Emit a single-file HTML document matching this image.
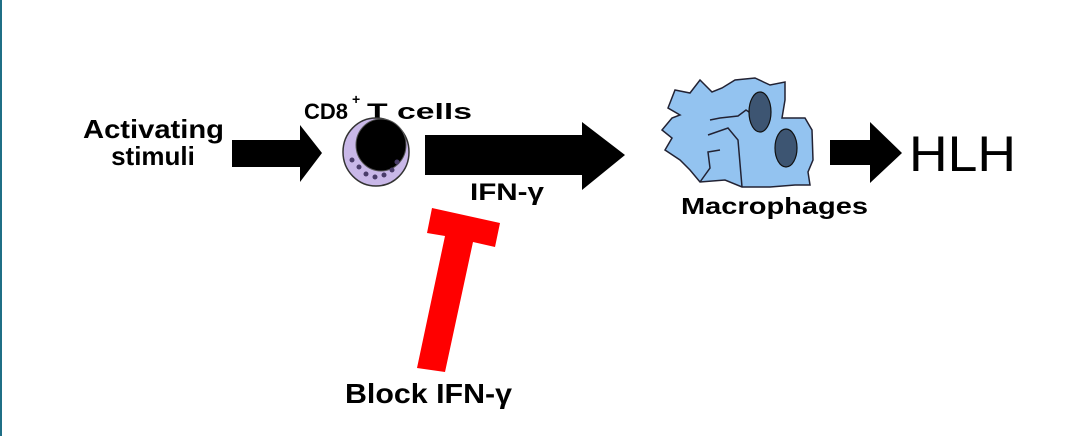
<!DOCTYPE html>
<html><head><style>
body{margin:0;width:1065px;height:436px;background:#fff;overflow:hidden;position:relative;font-family:"Liberation Sans",Arial,sans-serif}
</style></head><body>
<svg width="1065" height="436" viewBox="0 0 1065 436" xmlns="http://www.w3.org/2000/svg" style="position:absolute;left:0;top:0">
<rect x="0" y="0" width="2" height="436" fill="#1f6f86"/>
<text x="83" y="138" font-size="26" font-weight="bold" fill="#000" textLength="141" lengthAdjust="spacingAndGlyphs">Activating</text>
<text x="153" y="165" font-size="26" font-weight="bold" text-anchor="middle" fill="#000">stimuli</text>
<polygon points="232,140 300,140 300,125 322,153 300,182 300,167 232,167" fill="#000"/>
<text x="304" y="119" font-size="22" font-weight="bold" fill="#000">CD8</text>
<text x="352" y="104" font-size="14" font-weight="bold" fill="#000">+</text>
<text x="367" y="119" font-size="22" font-weight="bold" fill="#000" textLength="105" lengthAdjust="spacingAndGlyphs">T cells</text>
<ellipse cx="376" cy="152" rx="33" ry="34" fill="#c9b8e8" stroke="#333" stroke-width="1.5"/>
<ellipse cx="381" cy="145" rx="25" ry="26" fill="#000" stroke="#555" stroke-width="1"/>
<g fill="#4a3d6a"><circle cx="352" cy="160" r="2.5"/><circle cx="359" cy="167" r="2.5"/><circle cx="366" cy="174" r="2.5"/><circle cx="375" cy="177" r="2.5"/><circle cx="384" cy="175" r="2.5"/><circle cx="392" cy="170" r="2.5"/><circle cx="397" cy="162" r="2.5"/></g>
<polygon points="425,135 582,135 582,122 625,155 582,190 582,175 425,175" fill="#000"/>
<text x="470" y="200" font-size="24" font-weight="bold" fill="#000" textLength="74" lengthAdjust="spacingAndGlyphs">IFN-γ</text>
<polygon points="432,208 500,223 495,247 473,242 445,372 417,368 445,236 427,233" fill="#f00"/>
<text x="345" y="403" font-size="28" font-weight="bold" fill="#000" textLength="167" lengthAdjust="spacingAndGlyphs">Block IFN-γ</text>
<path d="M668,108 L675,90 L690,93 L700,80 L712,92 L722,88 L735,80 L755,78 L770,85 L785,82 L785,100 L782,118 L805,118 L812,130 L813,160 L808,172 L810,185 L795,185 L770,187 L742,187 L725,180 L700,182 L690,170 L680,160 L665,150 L672,138 L662,130 L672,118 L680,115 Z" fill="#93c3f0" stroke="#223" stroke-width="1.5"/>
<path d="M710,120 L720,118 L738,116 L746,110 L758,118 L770,120 M708,135 L728,128 L738,140 L742,187 M700,182 L710,168 L708,152 L720,150" fill="none" stroke="#223" stroke-width="1.5"/>
<ellipse cx="760" cy="112" rx="11" ry="20" fill="#3d5572" stroke="#111" stroke-width="1.2"/>
<ellipse cx="786" cy="148" rx="11" ry="19" fill="#3d5572" stroke="#111" stroke-width="1.2"/>
<text x="681" y="214" font-size="23" font-weight="bold" fill="#000" textLength="187" lengthAdjust="spacingAndGlyphs">Macrophages</text>
<polygon points="830,140 870,140 870,122 902,153 870,183 870,165 830,165" fill="#000"/>
<text x="909" y="171" font-size="50" fill="#000" textLength="107" lengthAdjust="spacingAndGlyphs">HLH</text>
</svg>
</body></html>
